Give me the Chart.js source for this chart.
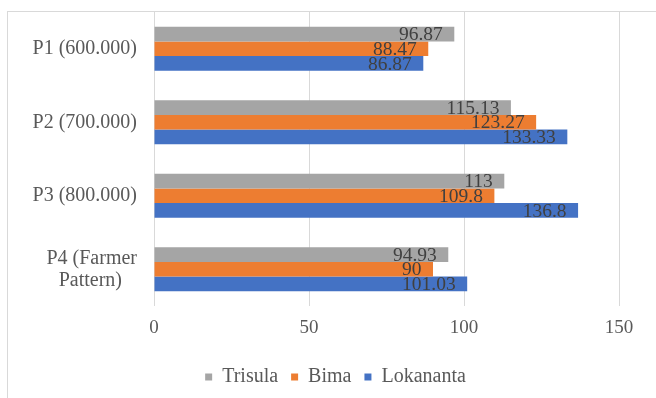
<!DOCTYPE html>
<html>
<head>
<meta charset="utf-8">
<script src="https://cdn.jsdelivr.net/npm/chart.js@4"></script>
<style>
    html, body { margin: 0; padding: 0; background: #fff; overflow: hidden; }
    #wrap { position: relative; width: 656px; height: 398px; }
    #frame { position: absolute; left: 7px; top: 11px; width: 700px; height: 450px;
             border-left: 1px solid #d9d9d9; border-top: 1px solid #d9d9d9; }
    #myChart { position: absolute; left: 0; top: 0; }
</style>
</head>
<body>
<div id="wrap">
    <div id="frame"></div>
    <canvas id="myChart" width="656" height="398"></canvas>
</div>
<script>
const categories = ['P1 (600.000)', 'P2 (700.000)', 'P3 (800.000)', ['P4 (Farmer', 'Pattern)   ']];
const seriesNames = ['Trisula', 'Bima', 'Lokananta'];
const trisula = [96.87, 115.13, 113, 94.93];
const bima = [88.47, 123.27, 109.8, 90];
const lokananta = [86.87, 133.33, 136.8, 101.03];
const xTicks = [0, 50, 100, 150];

const serif = "'Liberation Serif', 'Times New Roman', serif";

// labels drawn inside the end of each bar
const valueLabels = {
    id: 'valueLabels',
    afterDatasetsDraw(chart) {
        const ctx = chart.ctx;
        ctx.save();
        ctx.font = '19.5px ' + serif;
        ctx.fillStyle = '#404040';
        ctx.textAlign = 'right';
        ctx.textBaseline = 'middle';
        chart.data.datasets.forEach((ds, i) => {
            const meta = chart.getDatasetMeta(i);
            meta.data.forEach((bar, j) => {
                ctx.fillText(String(ds.data[j]), bar.x - 11.5, bar.y + 1);
            });
        });
        ctx.restore();
    }
};

// legend sits a bit right of the canvas centre in the original
const legendShift = {
    id: 'legendShift',
    afterLayout(chart) {
        chart.legend.left += 26;
        chart.legend.right += 26;
    }
};

const ctx = document.getElementById('myChart').getContext('2d');
const chart = new Chart(ctx, {
    type: 'bar',
    data: {
        labels: categories,
        datasets: [
            { label: seriesNames[0], data: trisula, backgroundColor: '#a5a5a5' },
            { label: seriesNames[1], data: bima, backgroundColor: '#ed7d31' },
            { label: seriesNames[2], data: lokananta, backgroundColor: '#4472c4' }
        ]
    },
    options: {
        indexAxis: 'y',
        responsive: false,
        animation: false,
        devicePixelRatio: 1,
        datasets: {
            bar: { barPercentage: 1, categoryPercentage: 0.6, borderWidth: 0 }
        },
        layout: {
            padding: { left: 0, right: 37, top: 12, bottom: 1 }
        },
        scales: {
            x: {
                min: 0,
                max: 150,
                afterBuildTicks: (scale) => { scale.ticks = xTicks.map(v => ({ value: v })); },
                afterFit: (scale) => { scale.height = 48; },
                grid: { color: '#d9d9d9', drawTicks: false },
                border: { display: false },
                ticks: {
                    padding: 10.5,
                    color: '#595959',
                    font: { family: serif, size: 19 }
                }
            },
            y: {
                afterFit: (scale) => {
                    scale.width = 154;
                    scale.paddingTop = 0;
                    scale.paddingBottom = 0;
                },
                grid: { display: false, drawTicks: false },
                border: { display: false },
                ticks: {
                    padding: 17,
                    color: '#595959',
                    font: { family: serif, size: 20, lineHeight: 1.1 }
                }
            }
        },
        plugins: {
            legend: {
                position: 'bottom',
                labels: {
                    boxWidth: 7,
                    boxHeight: 7,
                    padding: 13,
                    color: '#595959',
                    font: { family: serif, size: 20 }
                }
            },
            tooltip: { enabled: false }
        }
    },
    plugins: [valueLabels, legendShift]
});
</script>
</body>
</html>
